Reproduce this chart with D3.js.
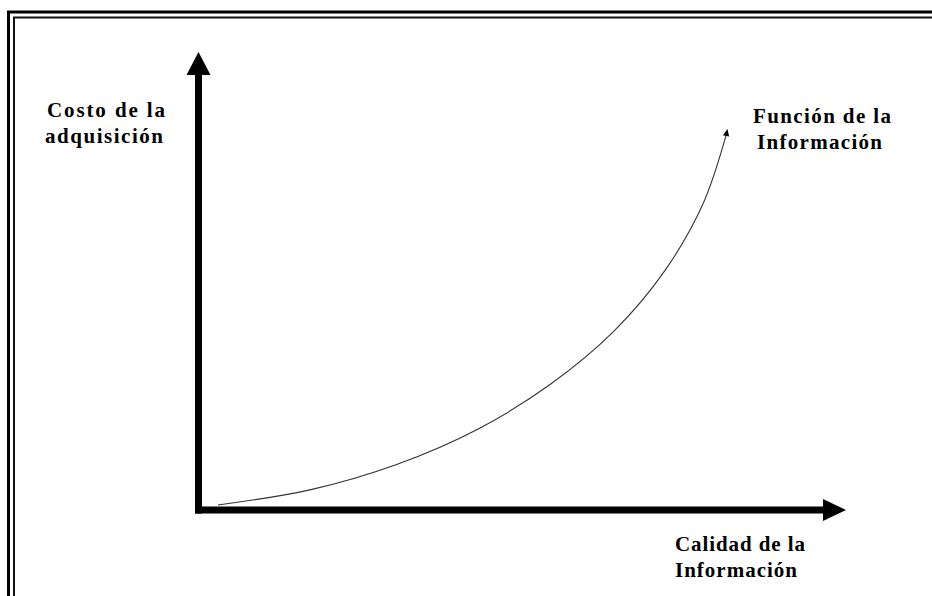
<!DOCTYPE html>
<html><head><meta charset="utf-8">
<script src="https://cdn.jsdelivr.net/npm/d3@7/dist/d3.min.js"></script>
<style>html,body{margin:0;padding:0;background:#fff;}svg{display:block;}</style>
</head><body>
<script>
// Curve values (conceptual units, 0–100 on each axis)
const calidad = [3.0, 17.2, 30.7, 43.2, 54.4, 64.2, 72.0, 77.9, 81.5];
const costo   = [1.1, 4.4, 10.0, 17.7, 27.5, 39.1, 52.2, 66.8, 81.9];
const yLabelLines = ["Costo de la", "adquisición"];
const xLabelLines = ["Calidad de la", "Información"];
const curveLabelLines = ["Función de la", "Información"];

const W = 932, H = 596;
const svg = d3.select("body").append("svg").attr("width", W).attr("height", H);
svg.append("rect").attr("width", W).attr("height", H).attr("fill", "#fff");

// double frame (open at right and bottom, as cropped)
svg.append("path").attr("d", `M8.5,${H} V12 H${W}`).attr("fill", "none").attr("stroke", "#000").attr("stroke-width", 3);
svg.append("path").attr("d", `M14,${H} V17.5 H${W}`).attr("fill", "none").attr("stroke", "#111").attr("stroke-width", 2);

const x = d3.scaleLinear().domain([0, 100]).range([198.5, 846]);
const y = d3.scaleLinear().domain([0, 100]).range([510, 52]);

// axes
const g = svg.append("g");
const headLen = 23, headHalf = 12;
g.append("line").attr("x1", x(0) - 3.5).attr("x2", x(100) - headLen + 1)
  .attr("y1", y(0)).attr("y2", y(0)).attr("stroke", "#000").attr("stroke-width", 7);
g.append("path").attr("d", `M${x(100)},${y(0)} L${x(100) - headLen},${y(0) - 11} L${x(100) - headLen},${y(0) + 11} Z`).attr("fill", "#000");
g.append("line").attr("x1", x(0)).attr("x2", x(0))
  .attr("y1", y(0) + 3.5).attr("y2", y(100) + headLen - 1).attr("stroke", "#000").attr("stroke-width", 7);
g.append("path").attr("d", `M${x(0)},${y(100)} L${x(0) - headHalf},${y(100) + headLen} L${x(0) + headHalf},${y(100) + headLen} Z`).attr("fill", "#000");

// curve
const pts = calidad.map((v, i) => [x(v), y(costo[i])]);
const line = d3.line().curve(d3.curveCatmullRom.alpha(0.5));
svg.append("path").attr("d", line(pts)).attr("fill", "none").attr("stroke", "#333").attr("stroke-width", 1.1);
const last = pts[pts.length - 1], prev = pts[pts.length - 2];
const ang = Math.atan2(last[1] - prev[1], last[0] - prev[0]) - 0.12;
const tip = [last[0] + Math.cos(ang) * 6, last[1] + Math.sin(ang) * 6];
const hw = 3.2, back = 7;
const bx = tip[0] - Math.cos(ang) * back, by = tip[1] - Math.sin(ang) * back;
svg.append("path").attr("d",
  `M${tip[0]},${tip[1]} L${bx - Math.sin(ang) * hw},${by + Math.cos(ang) * hw} L${bx + Math.sin(ang) * hw},${by - Math.cos(ang) * hw} Z`)
  .attr("fill", "#000");

// labels
function label(lines, xs, ys, lens) {
  const t = svg.append("text").attr("font-family", "'Liberation Serif','Times New Roman',serif")
    .attr("font-weight", "bold").attr("font-size", 21).attr("fill", "#000");
  lines.forEach((s, i) => t.append("tspan").attr("x", xs[i]).attr("y", ys[i])
    .attr("textLength", lens[i]).attr("lengthAdjust", "spacing").text(s));
}
label(yLabelLines, [47, 45], [117, 143], [118, 118]);
label(curveLabelLines, [753, 757], [123, 149], [138, 125]);
label(xLabelLines, [675, 675], [551, 577], [130, 122]);
</script>
</body></html>
